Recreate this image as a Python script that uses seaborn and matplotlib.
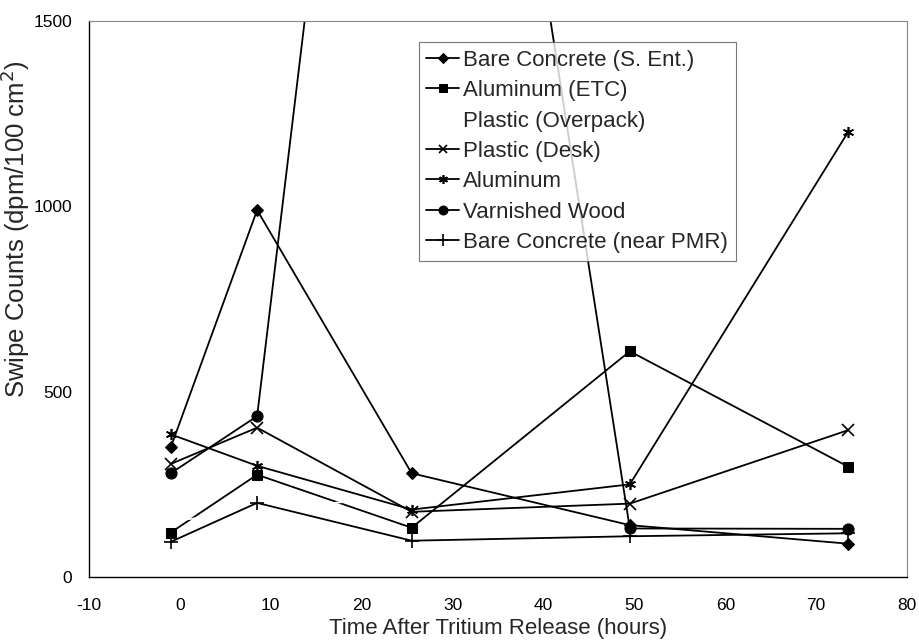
import numpy as np
import pandas as pd
import matplotlib
matplotlib.use("Agg")
import matplotlib.pyplot as plt
import seaborn as sns

# time points (hours after release)
hours = [-1, 8.5, 25.5, 49.5, 73.5]

# swipe counts per surface
bare_concrete_s_ent = [350, 990, 280, 140, 90]
aluminum_etc = [120, 276, 133, 609, 298]
plastic_overpack = [150, 180, 220, np.nan, np.nan]  # drawn in white in the source
plastic_desk = [305, 403, 176, 198, 396]
aluminum = [385, 300, 182, 250, 1200]
varnished_wood = [280, 434, 3900, 131, 130]
bare_concrete_pmr = [95, 200, 98, 110, 118]

series_names = [
    "Bare Concrete (S. Ent.)",
    "Aluminum (ETC)",
    "Plastic (Overpack)",
    "Plastic (Desk)",
    "Aluminum",
    "Varnished Wood",
    "Bare Concrete (near PMR)",
]
series_values = [
    bare_concrete_s_ent,
    aluminum_etc,
    plastic_overpack,
    plastic_desk,
    aluminum,
    varnished_wood,
    bare_concrete_pmr,
]

# marker styles for each series
styles = {
    "Bare Concrete (S. Ent.)": dict(marker="D", markersize=6.5, color="black"),
    "Aluminum (ETC)": dict(marker="s", markersize=7, color="black"),
    "Plastic (Overpack)": dict(marker=None, color="white"),
    "Plastic (Desk)": dict(marker="x", markersize=8, color="black", markeredgewidth=1.2),
    "Aluminum": dict(marker=(6, 2, 0), markersize=8, color="black", markeredgewidth=1.2),
    "Varnished Wood": dict(marker="o", markersize=8, color="black"),
    "Bare Concrete (near PMR)": dict(marker="+", markersize=10, color="black", markeredgewidth=1.2),
}

sns.set_style("white")
plt.rcParams["font.family"] = ["Liberation Sans", "DejaVu Sans"]
plt.rcParams["axes.unicode_minus"] = False

fig = plt.figure(figsize=(9.19, 6.43), dpi=100)
ax = fig.add_axes([0.0968, 0.1026, 0.8902, 0.8647])

for name, vals in zip(series_names, series_values):
    df = pd.DataFrame({"Hours": hours, "Counts": vals})
    st = styles[name]
    sns.lineplot(
        data=df, x="Hours", y="Counts", ax=ax, label=name,
        linewidth=1.3, markeredgecolor=st["color"], **st,
    )

ax.set_xlim(-10, 80)
ax.set_ylim(0, 1500)
ax.set_xticks(range(-10, 81, 10))
ax.set_yticks([0, 500, 1000, 1500])
ax.tick_params(direction="in", length=4, width=0.8, colors="black")
ax.tick_params(axis="x", pad=15, labelsize=12.5)
ax.tick_params(axis="y", pad=12, labelsize=12.5)
ax.set_xlabel("Time After Tritium Release (hours)", fontsize=16, labelpad=4)
ax.set_ylabel("Swipe Counts (dpm/100 cm$^2$)", fontsize=18.5)
ax.yaxis.set_label_coords(-0.07, 0.625)

for side in ["left", "bottom"]:
    ax.spines[side].set_color("black")
    ax.spines[side].set_linewidth(1.0)
for side in ["top", "right"]:
    ax.spines[side].set_color("#888888")
    ax.spines[side].set_linewidth(0.8)

leg = ax.legend(
    loc="upper left", bbox_to_anchor=(0.403, 0.962), borderaxespad=0,
    fontsize=16, frameon=True, fancybox=False, edgecolor="#555555",
    handlelength=1.45, handletextpad=0.2, labelspacing=0.42,
    borderpad=0.35, markerscale=0.8,
)
leg.get_frame().set_linewidth(0.8)

fig.savefig("out.png", dpi=100)
